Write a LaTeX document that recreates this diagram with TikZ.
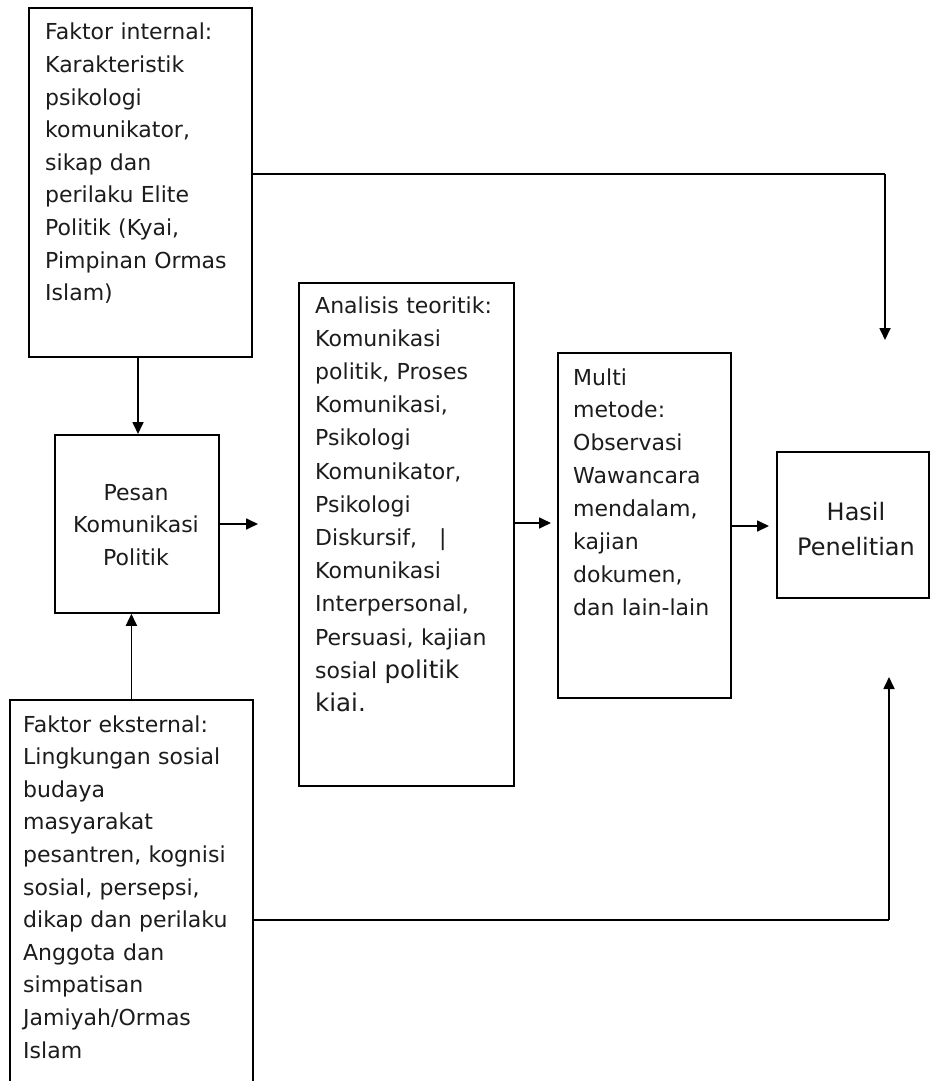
\documentclass[tikz,border=0pt]{standalone}
\usepackage{fontspec}
\setmainfont{DejaVu Sans}
\usetikzlibrary{arrows.meta}
\definecolor{txtcol}{RGB}{28,28,28}
\begin{document}
\begin{tikzpicture}[x=1pt,y=1pt,
  box/.style={draw=black, line width=1.8pt, inner sep=0pt, anchor=north west},
  txt/.style={inner sep=0pt, text=txtcol, align=left, text width=#1, anchor=base west,
    font=\fontsize{22}{32.6}\selectfont},
  ctxt/.style={inner sep=0pt, text=txtcol, align=center, text width=#1, anchor=base},
  arr/.style={line width=1.7pt, -{Triangle[length=12pt,width=11pt]}},
  ln/.style={line width=1.7pt}]
\useasboundingbox (0,0) rectangle (929,-1081);
\fill[white] (0,0) rectangle (929,-1081);

% boxes
\node[box, minimum width=223pt, minimum height=349pt] (fi) at (28,-7) {};
\node[box, minimum width=164pt, minimum height=178pt] (pe) at (54,-434) {};
\node[box, minimum width=243pt, minimum height=391pt] (ek) at (9,-699) {};
\node[box, minimum width=215pt, minimum height=503pt] (an) at (298,-282) {};
\node[box, minimum width=173pt, minimum height=345pt] (mu) at (557,-352) {};
\node[box, minimum width=152pt, minimum height=146pt] (ha) at (776,-451) {};

% texts
\node[txt=200pt] (fitxt) at (45,-40) {Faktor internal:\\Karakteristik\\psikologi\\komunikator,\\sikap dan\\perilaku Elite\\Politik (Kyai,\\Pimpinan Ormas\\Islam)};
\node[ctxt=160pt, font=\fontsize{22}{32.5}\selectfont] (petxt) at (136,-500) {Pesan\\Komunikasi\\Politik};
\node[txt=228pt] (ektxt) at (23,-732) {Faktor eksternal:\\Lingkungan sosial\\budaya\\masyarakat\\pesantren, kognisi\\sosial, persepsi,\\dikap dan perilaku\\Anggota dan\\simpatisan\\Jamiyah/Ormas\\Islam};
\node[txt=196pt, font=\fontsize{22}{33.2}\selectfont] (antxt) at (315,-313) {Analisis teoritik:\\Komunikasi\\politik, Proses\\Komunikasi,\\Psikologi\\Komunikator,\\Psikologi\\Diskursif,\hspace{22pt}|\\Komunikasi\\Interpersonal,\\Persuasi, kajian\\sosial {\fontsize{24.5}{33.2}\selectfont politik}\\{\fontsize{24.5}{33.2}\selectfont kiai.}};
\node[txt=155pt, font=\fontsize{22}{32.9}\selectfont] (mutxt) at (573,-385) {Multi\\metode:\\Observasi\\Wawancara\\mendalam,\\kajian\\dokumen,\\dan lain-lain};
\node[ctxt=150pt, font=\fontsize{24}{35}\selectfont] (hatxt) at (856,-520) {Hasil\\Penelitian};

% free ends
\coordinate (peout) at (258,-524);
\coordinate (anout) at (551,-523);
\coordinate (muout) at (769,-526);
\coordinate (topc) at (885,-174);
\coordinate (topend) at (885,-340);
\coordinate (botc) at (889,-920);
\coordinate (botend) at (889,-677);

% connectors
\draw[arr] (fi.south -| 138,0) -- (pe.north -| 138,0);
\draw[arr] (ek.north) -- (ek.north |- pe.south);
\draw[arr] (pe.east |- peout) -- (peout);
\draw[arr] (an.east |- anout) -- (anout);
\draw[arr] (mu.east |- muout) -- (muout);
\draw[ln] (fi.east |- topc) -- (topc);
\draw[arr] (topc) -- (topend);
\draw[ln] (ek.east |- botc) -- (botc);
\draw[arr] (botc) -- (botend);
\end{tikzpicture}
\end{document}
